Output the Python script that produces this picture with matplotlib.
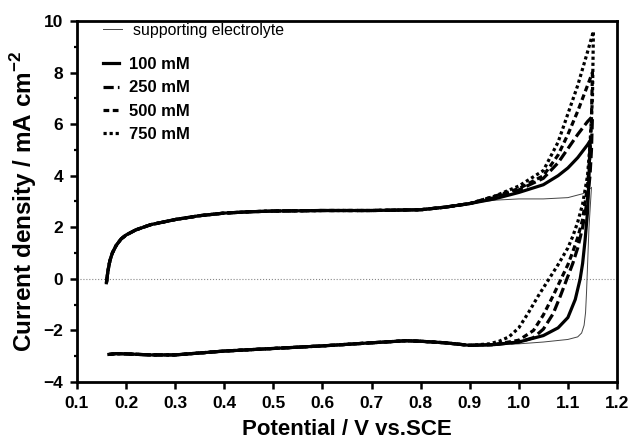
import numpy as np
import matplotlib
matplotlib.use("Agg")
import matplotlib.pyplot as plt
from matplotlib.ticker import MultipleLocator, FormatStrFormatter

plt.rcParams["font.family"] = ["Liberation Sans", "DejaVu Sans"]
plt.rcParams["mathtext.fontset"] = "custom"
plt.rcParams["mathtext.rm"] = "Liberation Sans:bold"
plt.rcParams["mathtext.bf"] = "Liberation Sans:bold"

# low-potential part of the scan, shared by all curves (they overlap there)
E_fwd_low = [0.160, 0.163, 0.167, 0.172, 0.180, 0.190, 0.200, 0.220, 0.250, 0.300,
             0.350, 0.400, 0.450, 0.500, 0.600, 0.700, 0.800, 0.850, 0.900]
j_fwd_low = [-0.15, 0.30, 0.70, 1.00, 1.30, 1.55, 1.70, 1.90, 2.10, 2.30,
             2.45, 2.55, 2.60, 2.63, 2.65, 2.65, 2.68, 2.78, 2.92]
E_rev_low = [0.900, 0.850, 0.800, 0.770, 0.700, 0.600, 0.500, 0.400, 0.300, 0.250,
             0.200, 0.180, 0.165]
j_rev_low = [-2.58, -2.48, -2.42, -2.40, -2.48, -2.60, -2.70, -2.80, -2.95, -2.95,
             -2.91, -2.90, -2.93]

# high-potential part: forward sweep to the vertex, then the return sweep
E_fwd_se = [0.95, 1.00, 1.05, 1.10, 1.13, 1.14, 1.145, 1.148]
j_fwd_se = [3.05, 3.10, 3.10, 3.15, 3.30, 3.40, 3.50, 3.55]
E_rev_se = [1.143, 1.140, 1.138, 1.136, 1.133, 1.128, 1.120, 1.100, 1.050, 1.000, 0.950]
j_rev_se = [2.00, 0.50, -0.50, -1.30, -1.80, -2.10, -2.25, -2.35, -2.45, -2.52, -2.56]

E_fwd_100 = [0.95, 1.00, 1.05, 1.08, 1.10, 1.12, 1.14, 1.145]
j_fwd_100 = [3.10, 3.35, 3.65, 4.00, 4.30, 4.70, 5.20, 5.35]
E_rev_100 = [1.143, 1.140, 1.135, 1.130, 1.125, 1.115, 1.100, 1.080, 1.050, 1.000, 0.950]
j_rev_100 = [4.00, 2.60, 1.50, 0.60, 0.00, -0.80, -1.50, -1.90, -2.20, -2.45, -2.55]

E_fwd_250 = [0.95, 1.00, 1.05, 1.08, 1.10, 1.12, 1.14, 1.15]
j_fwd_250 = [3.15, 3.45, 3.90, 4.50, 5.05, 5.60, 6.10, 6.30]
E_rev_250 = [1.148, 1.145, 1.140, 1.130, 1.120, 1.110, 1.098, 1.085, 1.070, 1.050,
             1.030, 1.000, 0.950]
j_rev_250 = [5.00, 4.00, 3.10, 2.00, 1.20, 0.60, 0.00, -0.65, -1.35, -1.95,
             -2.28, -2.45, -2.55]

E_fwd_500 = [0.95, 1.00, 1.05, 1.08, 1.10, 1.12, 1.14, 1.15]
j_fwd_500 = [3.20, 3.50, 4.00, 4.80, 5.60, 6.50, 7.50, 8.00]
E_rev_500 = [1.148, 1.145, 1.140, 1.130, 1.120, 1.110, 1.100, 1.085, 1.070, 1.050,
             1.030, 1.000, 0.950]
j_rev_500 = [6.20, 4.80, 3.60, 2.30, 1.60, 1.05, 0.55, -0.05, -0.65, -1.40,
             -2.00, -2.38, -2.55]

E_fwd_750 = [0.95, 1.00, 1.05, 1.08, 1.10, 1.12, 1.14, 1.152]
j_fwd_750 = [3.20, 3.60, 4.20, 5.30, 6.40, 7.50, 8.80, 9.60]
E_rev_750 = [1.150, 1.145, 1.140, 1.130, 1.120, 1.110, 1.100, 1.080, 1.060, 1.040,
             1.020, 1.000, 0.980, 0.960, 0.940]
j_rev_750 = [7.00, 5.20, 4.00, 2.90, 2.20, 1.65, 1.20, 0.55, -0.05, -0.65,
             -1.30, -1.90, -2.25, -2.42, -2.52]


def full_scan(E_fwd, j_fwd, E_rev, j_rev):
    E = np.concatenate([E_fwd_low, E_fwd, E_rev, E_rev_low])
    j = np.concatenate([j_fwd_low, j_fwd, j_rev, j_rev_low])
    return E, j


fig = plt.figure(figsize=(6.33, 4.41), dpi=100)
ax = fig.add_axes([0.1216, 0.1338, 0.8531, 0.8186])

ax.axhline(0, color="#888888", ls=":", lw=0.8, zorder=1)

E, j = full_scan(E_fwd_se, j_fwd_se, E_rev_se, j_rev_se)
h_se, = ax.plot(E, j, color="#444444", lw=0.7, label="supporting electrolyte")

styles = [
    ("100 mM", (E_fwd_100, j_fwd_100, E_rev_100, j_rev_100), "-"),
    ("250 mM", (E_fwd_250, j_fwd_250, E_rev_250, j_rev_250), (0, (3.2, 1.3))),
    ("500 mM", (E_fwd_500, j_fwd_500, E_rev_500, j_rev_500), (0, (1.8, 1.1))),
    ("750 mM", (E_fwd_750, j_fwd_750, E_rev_750, j_rev_750), (0, (1.0, 0.9))),
]
handles = []
for label, data, ls in styles:
    E, j = full_scan(*data)
    h, = ax.plot(E, j, color="black", lw=2.3, ls=ls, label=label)
    handles.append(h)

ax.set_xlim(0.1, 1.2)
ax.set_ylim(-4, 10)
ax.xaxis.set_major_locator(MultipleLocator(0.1))
ax.xaxis.set_major_formatter(FormatStrFormatter("%.1f"))
ax.yaxis.set_major_locator(MultipleLocator(2))
ax.yaxis.set_minor_locator(MultipleLocator(1))

for s in ax.spines.values():
    s.set_linewidth(2.0)
ax.tick_params(which="major", direction="out", length=5, width=1.8, labelsize=12.5, pad=5)
ax.tick_params(which="minor", direction="out", length=2.5, width=1.6)
for lab in ax.get_xticklabels() + ax.get_yticklabels():
    lab.set_fontweight("bold")

ax.set_xlabel("Potential / V vs.SCE", fontsize=16, fontweight="bold", labelpad=6)
ax.set_ylabel("Current density / mA cm$^{-2}$", fontsize=17.5, fontweight="bold", labelpad=3)

leg1 = ax.legend(handles=[h_se], loc="upper left", bbox_to_anchor=(0.048, 0.995),
                 frameon=False, fontsize=11.4, handlelength=1.2, handletextpad=0.7,
                 borderpad=0, borderaxespad=0)
ax.add_artist(leg1)
ax.legend(handles=handles, loc="upper left", bbox_to_anchor=(0.048, 0.9),
          frameon=False, prop={"size": 12, "weight": "bold"}, handlelength=0.95,
          handletextpad=0.6, labelspacing=0.5, borderpad=0, borderaxespad=0)

fig.savefig("out.png", dpi=100)
